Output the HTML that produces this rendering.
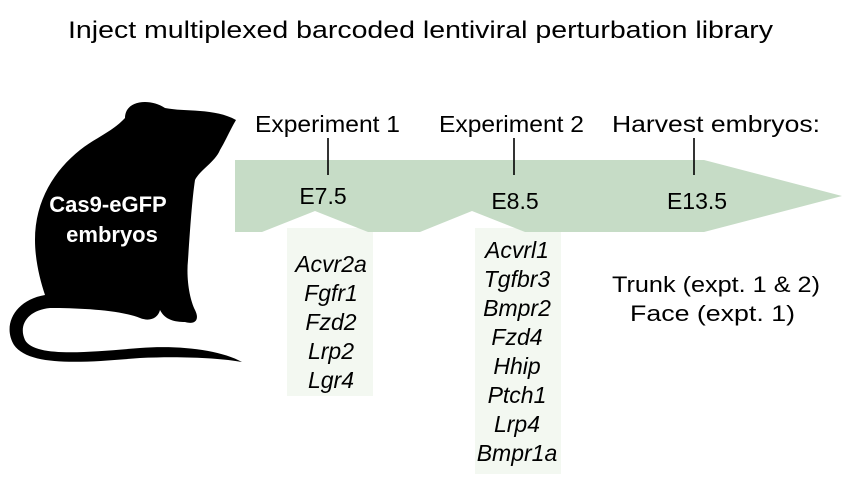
<!DOCTYPE html>
<html><head><meta charset="utf-8"><style>
html,body{margin:0;padding:0;background:#fff;}
svg text{font-family:"Liberation Sans",Arial,sans-serif;}
</style></head><body>
<svg width="851" height="489" viewBox="0 0 851 489" xmlns="http://www.w3.org/2000/svg">
<text x="68" y="38" font-size="24" textLength="705" lengthAdjust="spacingAndGlyphs" fill="#000">Inject multiplexed barcoded lentiviral perturbation library</text>
<!-- callout boxes -->
<rect x="287" y="228" width="86" height="168" fill="#f3f8f1"/>
<rect x="475" y="228" width="86" height="246" fill="#f3f8f1"/>
<!-- arrow -->
<path d="M235,160 L704,160 L842,196 L704,232 L525,232 L472,211 L420,232 L368,232 L315,211 L262,232 L235,232 Z" fill="#c6dcc6"/>
<!-- ticks -->
<line x1="328" y1="138" x2="328" y2="175" stroke="#000" stroke-width="1.6"/>
<line x1="514" y1="138" x2="514" y2="175" stroke="#000" stroke-width="1.6"/>
<line x1="694" y1="138" x2="694" y2="175" stroke="#000" stroke-width="1.6"/>
<text x="255" y="132" font-size="23" textLength="145" lengthAdjust="spacingAndGlyphs">Experiment 1</text>
<text x="439" y="132" font-size="23" textLength="145" lengthAdjust="spacingAndGlyphs">Experiment 2</text>
<text x="612" y="132" font-size="23" textLength="208" lengthAdjust="spacingAndGlyphs">Harvest embryos:</text>
<text x="323" y="204" font-size="23" text-anchor="middle">E7.5</text>
<text x="515" y="209" font-size="23" text-anchor="middle">E8.5</text>
<text x="697" y="209" font-size="23" text-anchor="middle">E13.5</text>
<g font-size="23" font-style="italic" text-anchor="middle">
<text x="331" y="272">Acvr2a</text>
<text x="331" y="301">Fgfr1</text>
<text x="331" y="330">Fzd2</text>
<text x="331" y="359">Lrp2</text>
<text x="331" y="388">Lgr4</text>
<text x="517" y="258">Acvrl1</text>
<text x="517" y="287">Tgfbr3</text>
<text x="517" y="316">Bmpr2</text>
<text x="517" y="345">Fzd4</text>
<text x="517" y="374">Hhip</text>
<text x="517" y="403">Ptch1</text>
<text x="517" y="432">Lrp4</text>
<text x="517" y="461">Bmpr1a</text>
</g>
<text x="612" y="292" font-size="22" textLength="208" lengthAdjust="spacingAndGlyphs">Trunk (expt. 1 &amp; 2)</text>
<text x="630" y="321" font-size="22" textLength="165" lengthAdjust="spacingAndGlyphs">Face (expt. 1)</text>
<!-- mouse -->
<path d="M125,118 C125,100 150,98 165,108 C185,112 215,108 236,120 C230,130 226,140 220,150 C215,162 200,170 195,180 C192,200 190,230 188,260 C186,280 190,300 195,310 C200,320 195,325 185,322 C175,322 165,320 160,310 C158,318 150,322 140,318 C120,310 80,308 50,308 C28,310 18,325 25,340 C35,358 90,352 140,348 C180,345 220,350 242,362 C220,358 180,356 140,358 C90,362 30,368 14,345 C2,325 15,300 45,295 C40,280 35,260 35,240 C35,200 55,170 80,150 C95,138 112,132 125,118 Z" fill="#000"/>
<text x="108" y="212" font-size="22" font-weight="bold" fill="#fff" text-anchor="middle">Cas9-eGFP</text>
<text x="112" y="242" font-size="22" font-weight="bold" fill="#fff" text-anchor="middle">embryos</text>
</svg>
</body></html>
